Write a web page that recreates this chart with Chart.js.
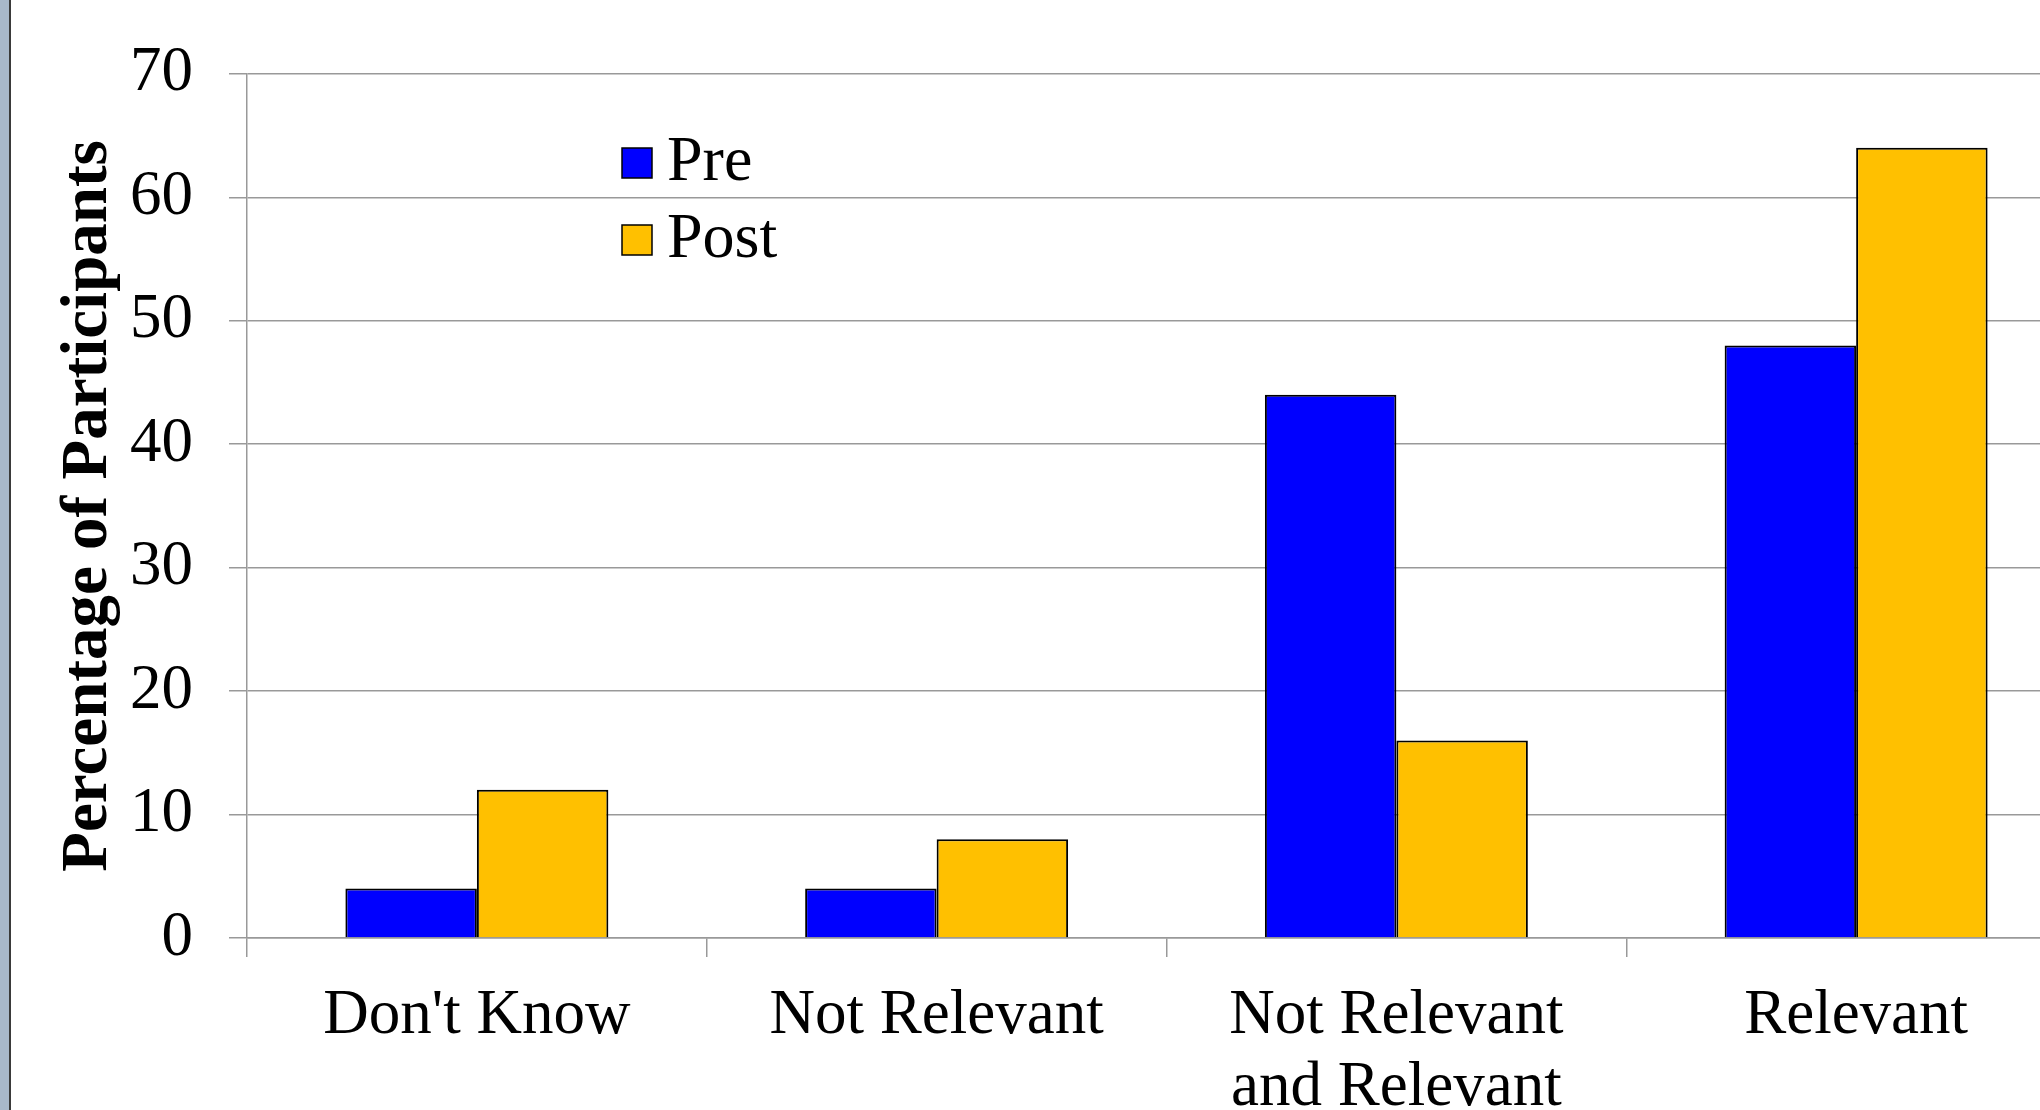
<!DOCTYPE html>
<html>
<head>
<meta charset="utf-8">
<script src="https://cdn.jsdelivr.net/npm/chart.js@4/dist/chart.umd.min.js"></script>
<style>
  html, body { margin: 0; padding: 0; background: #fff; overflow: hidden; }
  #wrap { position: absolute; left: 0; top: 0; width: 2086px; height: 1110px; }
  #strip { position: absolute; left: 0; top: 0; width: 9px; height: 1110px; background: #a8b8ca; border-right: 2px solid #3a3a3a; z-index: 2; }
</style>
</head>
<body>
<div id="strip"></div>
<div id="wrap"><canvas id="bars"></canvas></div>
<script>
// data
const categories = ['Don\'t Know', 'Not Relevant', ['Not Relevant', 'and Relevant'], 'Relevant']
const preValues = [4, 4, 44, 48]
const postValues = [12, 8, 16, 64]
const seriesNames = ['Pre', 'Post']
const yMin = 0, yMax = 70, yStep = 10

const serif = "'Liberation Serif', 'Times New Roman', serif"

// legend drawn inside the plot, like the original
const boxLegend = {
  id: 'boxLegend',
  afterDraw(chart) {
    const ctx = chart.ctx
    ctx.save()
    chart.data.datasets.forEach(function (ds, i) {
      const cy = 163 + i * 77
      ctx.fillStyle = ds.backgroundColor
      ctx.fillRect(622, cy - 15, 30, 30)
      ctx.strokeStyle = '#000'
      ctx.lineWidth = 1.5
      ctx.strokeRect(622, cy - 15, 30, 30)
      ctx.fillStyle = '#000'
      ctx.font = '64px ' + serif
      ctx.textBaseline = 'middle'
      ctx.textAlign = 'left'
      ctx.fillText(ds.label, 667, cy)
    })
    ctx.restore()
  }
}

const barConfig = {
  type: 'bar',
  data: {
    labels: categories,
    datasets: [
      {
        label: seriesNames[0],
        backgroundColor: '#0000ff',
        borderColor: '#000',
        borderWidth: 2,
        data: preValues,
      },
      {
        label: seriesNames[1],
        backgroundColor: '#ffc000',
        borderColor: '#000',
        borderWidth: 2,
        data: postValues,
      },
    ],
  },
  options: {
    responsive: false,
    animation: false,
    devicePixelRatio: 1,
    layout: { padding: { top: 73, left: 0, right: 0, bottom: 0 } },
    datasets: { bar: { categoryPercentage: 0.572, barPercentage: 1.0 } },
    plugins: {
      legend: { display: false },
      tooltip: { enabled: false },
    },
    scales: {
      x: {
        grid: { drawOnChartArea: false, drawTicks: true, tickLength: 19, color: '#999', lineWidth: 1.5 },
        border: { display: true, color: '#999', width: 1.5 },
        ticks: { color: '#000', padding: 24, maxRotation: 0, font: { family: serif, size: 63, lineHeight: 1.14 } },
        afterFit: function (scale) { scale.height = 172 },
      },
      y: {
        min: yMin,
        max: yMax,
        ticks: { stepSize: yStep, color: '#000', padding: 36, font: { family: serif, size: 63 } },
        grid: { color: '#999', lineWidth: 1.5, drawTicks: true, tickLength: 18 },
        border: { display: true, color: '#999', width: 1.5 },
        title: {
          display: true,
          text: 'Percentage of Participants',
          color: '#000',
          padding: { top: 50, bottom: 0 },
          font: { family: serif, size: 65, weight: 'bold', lineHeight: 1.2 },
        },
        afterFit: function (scale) { scale.width = 247 },
      },
    },
  },
  plugins: [boxLegend],
}

const barsCtx = document.getElementById('bars')
barsCtx.width = 2086
barsCtx.height = 1110
window.myBar = new Chart(barsCtx, barConfig)
</script>
</body>
</html>
